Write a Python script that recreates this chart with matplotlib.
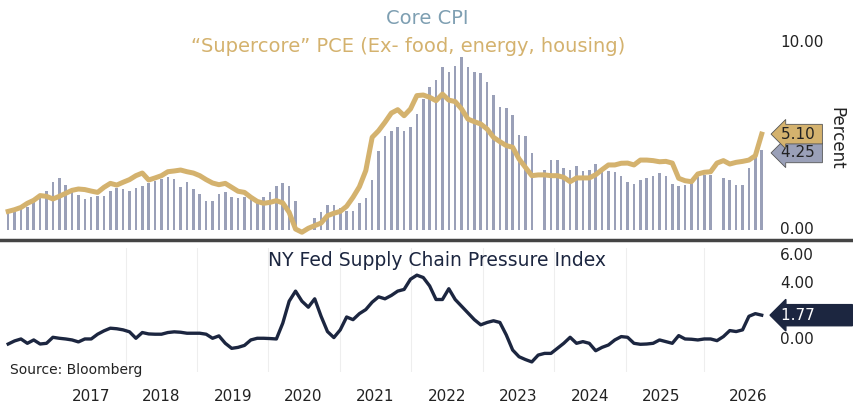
import matplotlib
matplotlib.use("Agg")
import matplotlib.pyplot as plt
import numpy as np
from matplotlib.lines import Line2D

# Core CPI bars (monthly, nan = missing)
core_cpi = [1.03, 0.94, 1.12, 1.2, 1.47, 1.83, 2.09, 2.54, 2.77, 2.41, 2.0, 1.88, 1.65, 1.74, 1.83,
            1.83, 2.06, 2.23, 2.18, 2.09, 2.23, 2.36, 2.48, 2.59, 2.71, 2.84, 2.71, 2.27, 2.54, 2.18,
            1.91, 1.56, 1.52, 1.91, 2.0, 1.77, 1.68, 1.77, 1.74, 1.47, 1.77, 2.04, 2.32, 2.48, 2.36,
            1.56, np.nan, np.nan, 0.64, 0.94, 1.33, 1.35, 1.17, 0.99, 0.99, 1.42, 1.68, 2.66, 4.22,
            5.02, 5.28, 5.46, 5.28, 5.46, 6.17, 6.97,
            7.59, 7.98, 8.65, 8.39, 8.74, 9.18, 8.65, 8.39, 8.35, 7.85, 7.2, 6.52, 6.49, 6.13, 5.05,
            5.02, 4.1, np.nan, 3.21, 3.72, 3.72, 3.28, 3.19, 3.42, 3.16, 3.19, 3.51, 3.3, 3.16, 3.07,
            2.89, 2.54, 2.45, 2.66, 2.77, 2.89, 3.01, 2.85, 2.45, 2.32, 2.39, 2.57, 2.8, 2.93, 2.93,
            np.nan, 2.77, 2.68, 2.41, 2.41, 3.28, 3.87, 4.25]

# "Supercore" PCE line
supercore = [0.99, 1.08, 1.2, 1.42, 1.58, 1.83, 1.79, 1.65, 1.79, 1.95, 2.11, 2.18, 2.15, 2.07, 2.0,
             2.27, 2.48, 2.39, 2.54, 2.68, 2.89, 3.03, 2.66, 2.77, 2.89, 3.1, 3.14, 3.19, 3.1, 3.03,
             2.89, 2.68, 2.5, 2.41, 2.48, 2.27, 2.06, 2.0, 1.74, 1.52, 1.42, 1.47, 1.56, 1.44, 0.94,
             0.05, -0.12, 0.09, 0.23, 0.37, 0.76, 0.89, 0.99, 1.26, 1.74, 2.3, 3.16, 4.93, 5.28, 5.73,
             6.22, 6.4, 6.08, 6.44, 7.15, 7.18, 7.06, 6.88, 7.23, 6.91, 6.83, 6.44, 5.9, 5.76, 5.64,
             5.37, 4.93, 4.7, 4.49, 4.4, 3.78, 3.33, 2.89, 2.93, 2.93, 2.89, 2.89, 2.8, 2.57, 2.77,
             2.77, 2.77, 2.94, 3.21, 3.46, 3.46, 3.55, 3.56, 3.46, 3.72, 3.72, 3.69, 3.63, 3.65, 3.56,
             2.75, 2.62, 2.57, 2.98, 3.07, 3.1, 3.56, 3.69, 3.51, 3.6, 3.65, 3.72, 3.95, 5.1]

# NY Fed Supply Chain Pressure Index
scpi = [-0.29, -0.07, 0.07, -0.24, 0, -0.29, -0.24, 0.19, 0.12, 0.07, 0, -0.14, 0.07, 0.07, 0.41,
        0.65, 0.84, 0.8, 0.72, 0.58, 0.12, 0.53, 0.43, 0.41, 0.41, 0.53, 0.58, 0.55, 0.48, 0.48,
        0.48, 0.41, 0.12, 0.29, -0.24, -0.6, -0.53, -0.39, 0, 0.12, 0.12, 0.1, 0.07, 1.2, 2.77,
        3.49, 2.77, 2.34, 2.94, 1.69, 0.6, 0.17, 0.72, 1.64, 1.45, 1.88, 2.17, 2.7, 3.08, 2.94,
        3.18, 3.49, 3.61, 4.34, 4.63, 4.46, 3.86, 2.89, 2.89, 3.66, 2.89, 2.41, 1.93, 1.45, 1.08,
        1.25, 1.37, 1.25, 0.36, -0.72, -1.2, -1.4, -1.57, -1.08, -0.96, -0.96, -0.6, -0.24, 0.19,
        -0.24, -0.12, -0.24, -0.77, -0.53, -0.36, 0, 0.24, 0.19, -0.24, -0.31, -0.29, -0.24, 0,
        -0.12, -0.24, 0.31, 0.07, 0.05, 0, 0.07, 0.07, -0.05, 0.24, 0.67, 0.6, 0.72, 1.69, 1.88, 1.77]

years = ["2017", "2018", "2019", "2020", "2021", "2022", "2023", "2024", "2025", "2026"]
year_pos = [13, 23.9, 35.2, 46.25, 57.5, 68.75, 79.8, 91.1, 102.3, 115.9]

GOLD = "#D4B26E"
BAR = "#9AA0B8"
NAVY = "#1C2640"

fig = plt.figure(figsize=(8.54, 4.08), dpi=100)
ax1 = fig.add_axes([5 / 854, 1 - 236 / 408, 765 / 854, 206 / 408])
ax2 = fig.add_axes([5 / 854, 1 - 372 / 408, 765 / 854, 124 / 408])

ax1.bar(np.arange(len(core_cpi)), core_cpi, width=0.4, color=BAR)
ax1.plot(np.arange(len(supercore)), supercore, color=GOLD, lw=3.6, solid_joinstyle="round")
ax1.set_xlim(-0.5, 119.3)
ax1.set_ylim(-0.32, 10.64)

ax2.plot(np.arange(len(scpi)), scpi, color=NAVY, lw=2.4)
ax2.set_xlim(-0.5, 119.3)
ax2.set_ylim(-2.29, 6.57)

for ax in (ax1, ax2):
    for s in ax.spines.values():
        s.set_visible(False)
    ax.tick_params(length=0)
    ax.set_yticks([])

ax1.set_xticks([])
ax2.set_xticks(year_pos)
ax2.set_xticklabels(years, fontsize=11, color="#222222")
ax2.tick_params(axis="x", pad=12)
for b in [18.5, 29.5, 40.7, 51.9, 63.1, 74.3, 85.5, 96.7, 109.0]:
    ax2.axvline(b, color="#EEEEEE", lw=0.8, zorder=0)

# right axis labels
for v in [10, 0]:
    ax1.text(1.013, v, f"{v:.2f}", transform=ax1.get_yaxis_transform(),
             va="center", ha="left", fontsize=11, color="#222222")
for v in [6, 4, 0]:
    ax2.text(1.013, v, f"{v:.2f}", transform=ax2.get_yaxis_transform(),
             va="center", ha="left", fontsize=11, color="#222222")
ax1.text(1.087, 4.9, "Percent", transform=ax1.get_yaxis_transform(), rotation=-90,
         va="center", ha="center", fontsize=12, color="#222222")

# value tags
ax1.text(1.015, 5.1, "5.10 ", transform=ax1.get_yaxis_transform(), va="center", ha="left",
         fontsize=11, color="#222222",
         bbox=dict(boxstyle="larrow,pad=0.15", fc=GOLD, ec="#555555", lw=0.6))
ax1.text(1.015, 4.1, "4.25 ", transform=ax1.get_yaxis_transform(), va="center", ha="left",
         fontsize=11, color="#222222", zorder=1,
         bbox=dict(boxstyle="larrow,pad=0.15", fc=BAR, ec="#555555", lw=0.6))
ax2.text(1.015, 1.77, "1.77       ", transform=ax2.get_yaxis_transform(), va="center", ha="left",
         fontsize=11, color="white",
         bbox=dict(boxstyle="larrow,pad=0.2", fc=NAVY, ec=NAVY))

# titles
fig.text(427 / 854, 1 - 18 / 408, "Core CPI", ha="center", va="center", fontsize=14, color="#7E9FB2")
fig.text(408 / 854, 1 - 47 / 408, "\u201cSupercore\u201d PCE (Ex- food, energy, housing)",
         ha="center", va="center", fontsize=14, color=GOLD)
fig.text(437 / 854, 1 - 261 / 408, "NY Fed Supply Chain Pressure Index", ha="center", va="center",
         fontsize=13.5, color=NAVY)
fig.text(10 / 854, 1 - 370 / 408, "Source: Bloomberg", ha="left", va="center", fontsize=10,
         color="#222222")

fig.add_artist(Line2D([0, 1], [1 - 240 / 408] * 2, color="#444444", lw=2.5))

fig.savefig("out.png", dpi=100)
